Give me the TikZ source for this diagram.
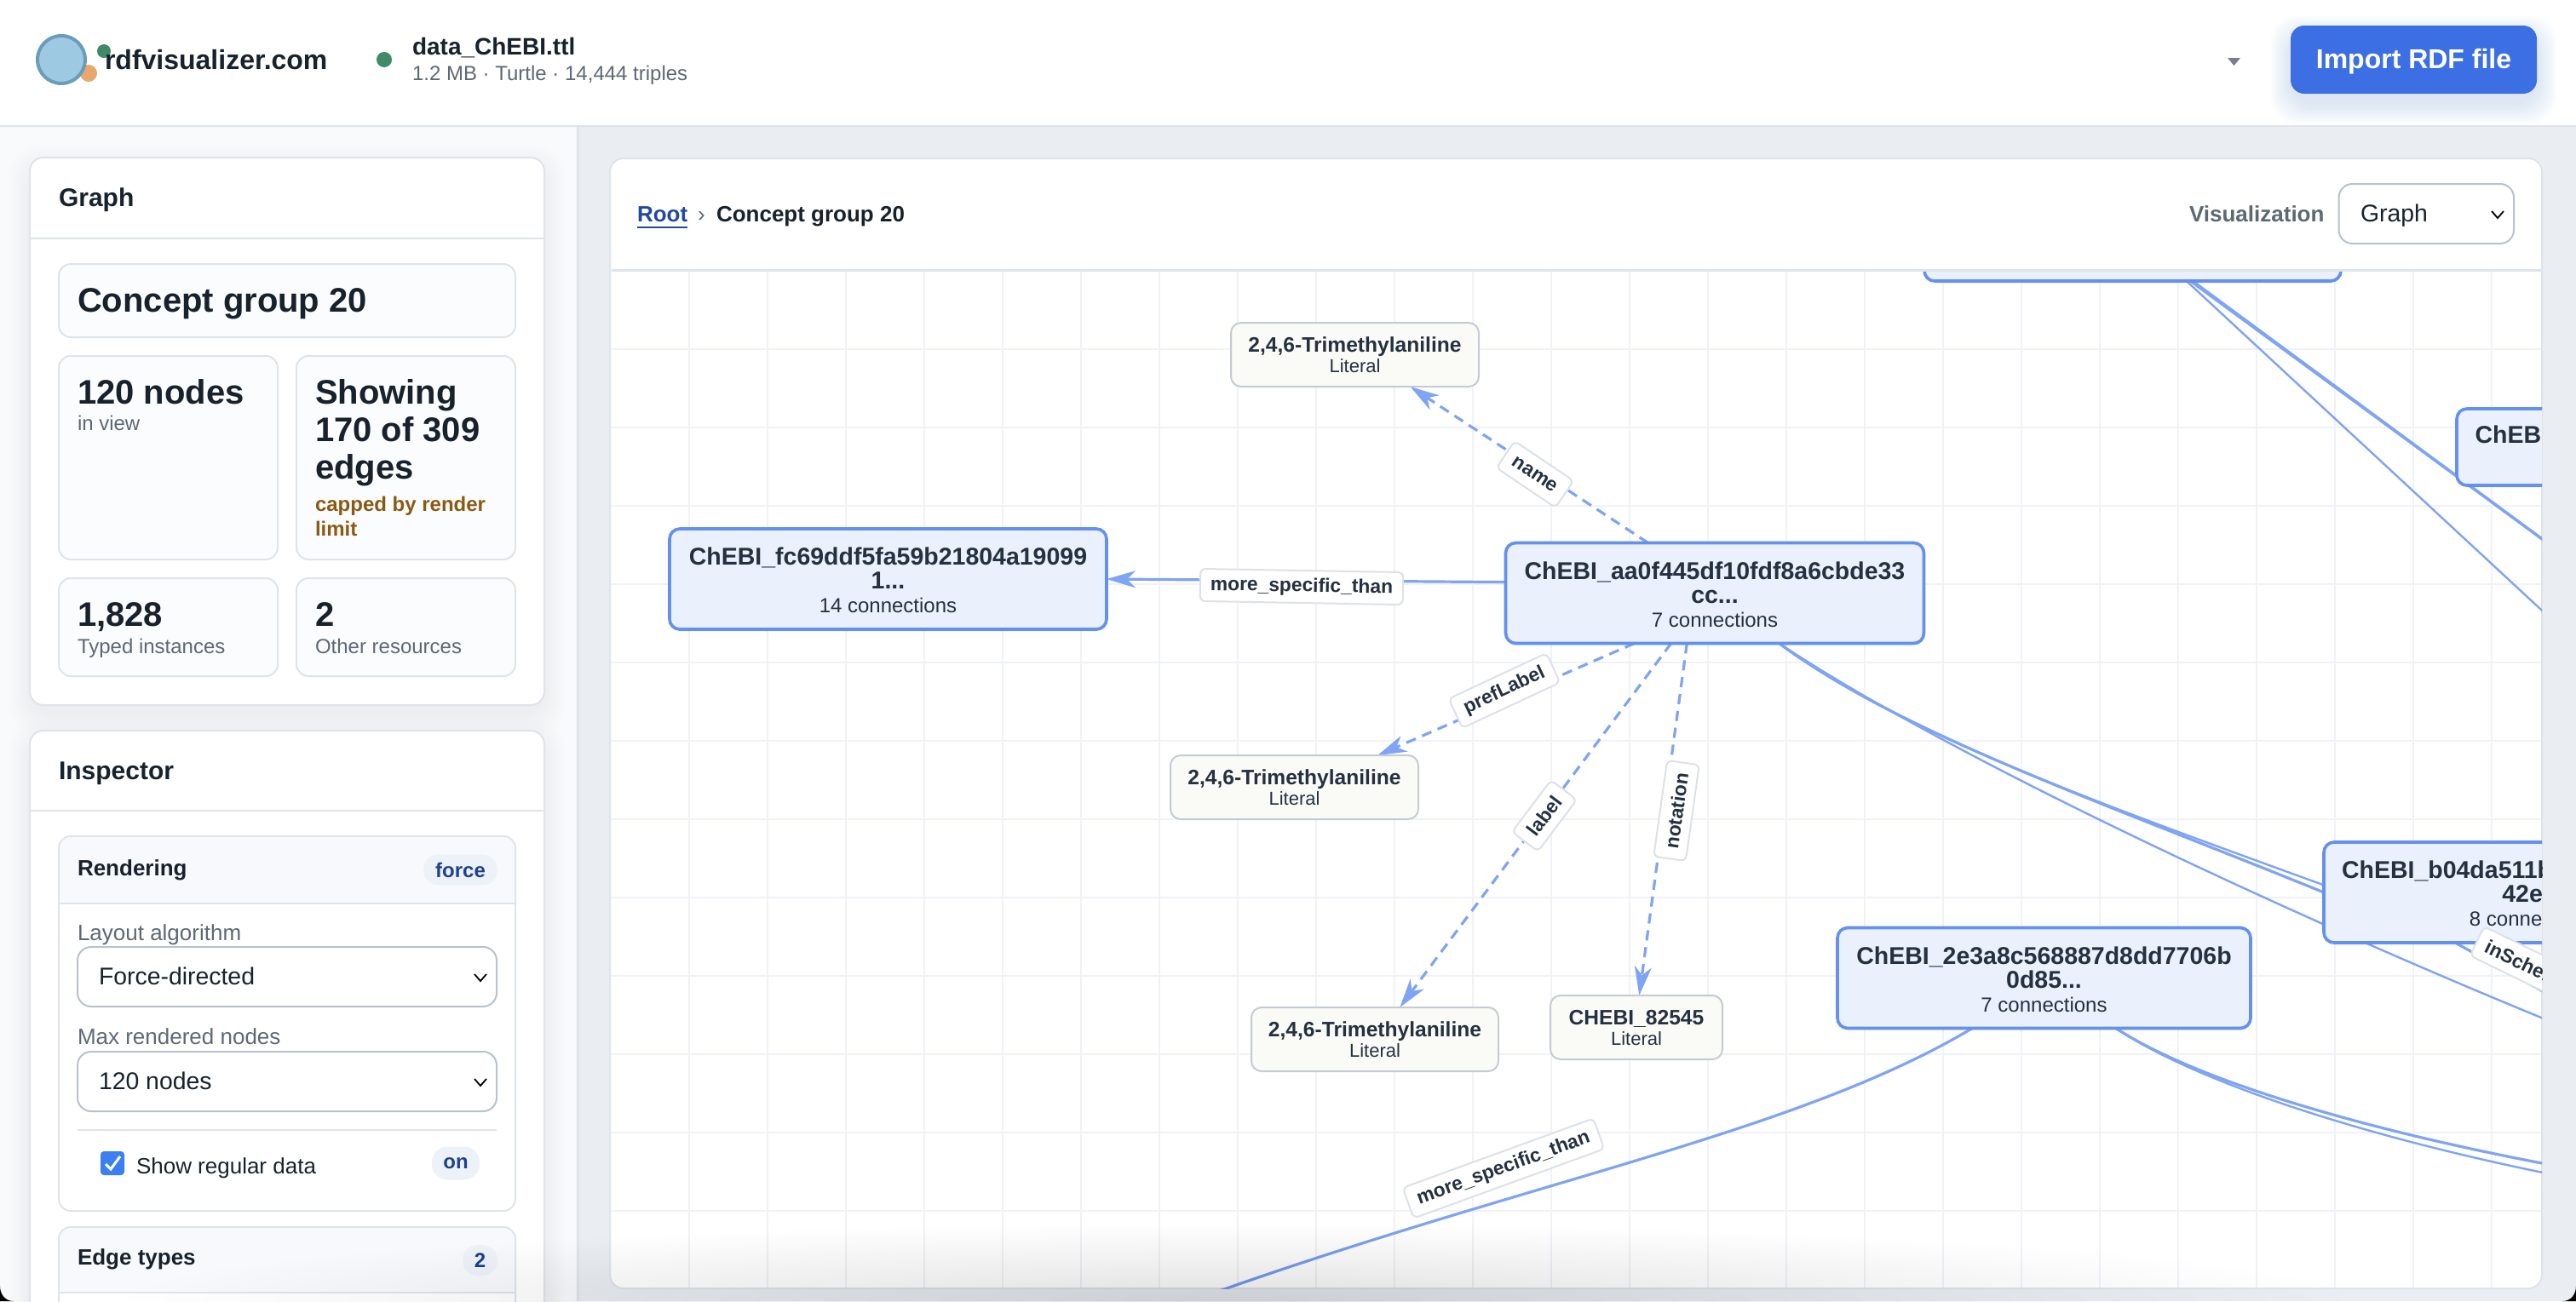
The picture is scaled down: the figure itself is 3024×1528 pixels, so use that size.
\documentclass[tikz,border=0pt]{standalone}
\usepackage{fontspec}
\setmainfont{Liberation Sans}
\usetikzlibrary{arrows.meta,shadows}

\pgfdeclarelayer{background}
\pgfdeclarelayer{edges}
\pgfdeclarelayer{top}
\pgfsetlayers{background,edges,main,top}

\definecolor{inkdark}{HTML}{18222D}
\definecolor{inknode}{HTML}{253040}
\definecolor{inkgrey}{HTML}{5E6875}
\definecolor{inkbadge}{HTML}{1F428F}
\definecolor{inkwarn}{HTML}{8A5A12}
\definecolor{linesoft}{HTML}{DFE3EA}
\definecolor{lineselect}{HTML}{B8C2CF}
\definecolor{sidebg}{HTML}{F9FAFC}
\definecolor{mainbg}{HTML}{EAEEF3}
\definecolor{boxbg}{HTML}{FBFCFE}
\definecolor{headbg}{HTML}{F7F9FC}
\definecolor{badgebg}{HTML}{EDF2F9}
\definecolor{gridline}{HTML}{F0F2F7}
\definecolor{conceptfill}{HTML}{EAF1FD}
\definecolor{conceptline}{HTML}{6490EE}
\definecolor{literalfill}{HTML}{FAFBF7}
\definecolor{literalline}{HTML}{C5CBD3}
\definecolor{edgeblue}{HTML}{7FA4F3}
\definecolor{labelline}{HTML}{DDE1E7}
\definecolor{buttonblue}{HTML}{3B6FE3}
\definecolor{checkblue}{HTML}{3B7FF0}
\definecolor{logoblue}{HTML}{9EC9E3}
\definecolor{logoline}{HTML}{6A9CBC}
\definecolor{logoorange}{HTML}{E8A86B}
\definecolor{dotgreen}{HTML}{3F8A68}
\definecolor{rootblue}{HTML}{2149A3}

\def\fsize#1#2{\fontsize{#1}{#2}\selectfont}
\def\trail{...}
\def\conn#1{{\fsize{12}{14}\mdseries #1}}
\def\lit#1{{\fsize{11}{12}\mdseries #1}}

% Boxes of the page
\tikzstyle{card}=[draw=linesoft,line width=1pt,fill=white,rounded corners=8pt]
\tikzstyle{stat}=[draw=linesoft,line width=1pt,fill=boxbg,rounded corners=7pt]
\tikzstyle{select}=[draw=lineselect,line width=1pt,fill=white,rounded corners=8pt]
\tikzstyle{hline}=[draw=linesoft,line width=1pt]
\tikzstyle{chevron}=[draw=black,line width=0.9pt]
\tikzstyle{badge}=[fill=badgebg,rounded corners=9pt,inner sep=0pt,text=inkbadge,font=\fsize{12}{12}\bfseries]

% Texts, all of them hang on their baseline
\tikzstyle{txt}=[anchor=base west,inner sep=0pt,outer sep=0pt,text=inkdark]
\tikzstyle{title}=[txt,font=\fsize{15}{15}\bfseries]
\tikzstyle{bigval}=[txt,align=left,font=\fsize{20}{22}\bfseries]
\tikzstyle{small}=[txt,text=inkgrey,font=\fsize{12}{12}]
\tikzstyle{field}=[txt,text=inkgrey,font=\fsize{13}{13}]
\tikzstyle{choice}=[txt,font=\fsize{14.2}{14}]
\tikzstyle{subhead}=[txt,font=\fsize{13}{13}\bfseries]

% The graph
\tikzstyle{concept}=[rectangle,rounded corners=6pt,draw=conceptline,line width=1.8pt,fill=conceptfill,
  inner sep=0pt,outer sep=0pt,minimum height=59pt,align=center,text=inknode,
  text height=45pt,text depth=5.5pt,font=\fsize{14.25}{14}\bfseries,
  drop shadow={opacity=0.08,shadow xshift=0pt,shadow yshift=-1.5pt}]
\tikzstyle{literal}=[rectangle,rounded corners=6pt,draw=literalline,line width=1pt,fill=literalfill,
  inner sep=0pt,outer sep=0pt,minimum height=37.5pt,align=center,text=inknode,
  text height=24pt,text depth=3.5pt,font=\fsize{12.3}{12}\bfseries]
\tikzstyle{edge}=[draw=edgeblue,line width=1.6pt]
\tikzstyle{thin edge}=[draw=edgeblue,line width=1.2pt]
\tikzstyle{tipped}=[-{Stealth[length=17pt,width=10pt,inset=5pt]}]
\tikzstyle{dashed edge}=[edge,tipped,dash pattern=on 6pt off 4pt]
\tikzstyle{edge label}=[rectangle,rounded corners=3pt,draw=labelline,line width=1pt,fill=white,
  inner xsep=6pt,inner ysep=0pt,minimum height=19pt,text=inknode,font=\fsize{11.4}{11.4}\bfseries]

\def\cards{{(35,185)/(639,828)}, {(35,858)/(639,1560)}}
\def\stats{{(69,310)/(605,396)}, {(69,418)/(326,657)}, {(348,418)/(605,657)}, {(69,679)/(326,794)}, {(348,679)/(605,794)}}
\def\chevrons{{(564,1148)}, {(564,1271)}, {(2932,252)}}
\def\titles{{(69,242)/graph/Graph}, {(69,915)/inspector/Inspector}}
\def\bigvalues{{(91,366)/group/Concept group 20}, {(91,474)/nodes/120 nodes}, {(370,562)/showing/Showing\\170 of 309\\edges}, {(91,735)/typed/1,828}, {(370,735)/other/2}}
\def\smalls{{(91,505)/inview/in view}, {(91,767)/typedsub/Typed instances}, {(370,767)/othersub/Other resources}}
\def\fields{{(91,1104)/layout/Layout algorithm}, {(91,1226)/maxnodes/Max rendered nodes}}
\def\choices{{(116,1156.5)/force/Force-directed}, {(116,1279.5)/hundred/120 nodes}, {(2771,260)/graphview/Graph}}
\def\badges{{(540.5,1021.5)/87pt/36pt/bforce/force}, {(535,1366)/56pt/39pt/bon/on}, {(563.5,1480)/41pt/36pt/btwo/2}}

\def\concepts{{(1042.5,680)/fc/256.5pt/ChEBI\_fc69ddf5fa59b21804a19099\\1\trail\\\conn{14 connections}},
  {(2013,696.5)/aa/245.5pt/ChEBI\_aa0f445df10fdf8a6cbde33\\cc\trail\\\conn{7 connections}},
  {(2399.5,1148.5)/twoe/242.5pt/ChEBI\_2e3a8c568887d8dd7706b\\0d85\trail\\\conn{7 connections}},
  {(2973,1048)/bnode/245pt/\makebox[224pt][l]{ChEBI\_b04da511b}\\42e\trail\\\conn{8 connections}},
  {(2503.5,271)/ctop/244.5pt/}}
\def\literals{{(1590.5,416.5)/litname/145.5pt/2,4,6-Trimethylaniline},
  {(1519.5,924.5)/litpref/145.5pt/2,4,6-Trimethylaniline},
  {(1614,1220.5)/litlabel/145pt/2,4,6-Trimethylaniline},
  {(1921,1206.5)/litchebi/101pt/CHEBI\_82545}}
\def\connectDashed{aa.143.3/litname.-30.6, aa.-148.7/litpref.21.2, aa.-131.1/litlabel.52.8, aa.-119/litchebi.85.4}
\def\edgelabels{{(1528,689)/-1/lmore/more\_specific\_than}, {(1802,557)/-34/lname/name},
  {(1766,811)/25/lpref/prefLabel}, {(1813,958)/53/llabel/label}, {(1968,952)/82/lnotation/notation},
  {(1765,1372)/20/lmoretwo/more\_specific\_than}, {(2967,1134)/-26/lscheme/inScheme}}

\begin{document}
\begin{tikzpicture}[x=0.5pt,y=-0.5pt]
  \useasboundingbox (0,0) rectangle (3024,1528);

  \begin{pgfonlayer}{background}
    % First the page: header, sidebar and main area
    \fill[white] (0,0) rectangle (3024,148);
    \fill[sidebg] (0,148) rectangle (678,1528);
    \fill[mainbg] (678,148) rectangle (3024,1528);
    \fill[linesoft] (0,147) rectangle (3024,149);
    \fill[linesoft] (677,148) rectangle (680,1528);

    % Soft shadows below the cards and the button
    \foreach \g in {2,4,...,24} {
      \fill[black,opacity=0.004,rounded corners=16pt] (35-\g,185-\g+10) rectangle (639+\g,828+\g+10);
      \fill[black,opacity=0.004,rounded corners=16pt] (35-\g,858-\g+10) rectangle (639+\g,1560);
      \fill[buttonblue,opacity=0.012,rounded corners=16pt] (2689-\g,30-\g+12) rectangle (2978+\g,110+\g+12);
    }

    \foreach \a/\b in \cards
      \path[card] \a rectangle \b;
    \foreach \a/\b in \stats
      \path[stat] \a rectangle \b;
    \draw[hline] (35,280) -- (639,280);
    \draw[hline] (35,952) -- (639,952);

    % The two boxes of the inspector
    \path[stat,fill=white] (69,982) rectangle (605,1422);
    \path[stat,fill=white] (69,1441) rectangle (605,1560);
    \path[fill=headbg] (70,1061) [rounded corners=7pt] -- (70,983) -- (604,983) [sharp corners] -- (604,1061) -- cycle;
    \path[fill=headbg] (70,1518) [rounded corners=7pt] -- (70,1442) -- (604,1442) [sharp corners] -- (604,1518) -- cycle;
    \draw[hline] (69,1061) -- (605,1061);
    \draw[hline] (69,1518) -- (605,1518);
    \path[select] (91,1112) rectangle (583,1182);
    \path[select] (91,1235) rectangle (583,1305);
    \draw[hline] (91,1326.5) -- (583,1326.5);

    % Graph panel with its grid
    \path[card] (716,186) rectangle (2984,1513);
    \path[select] (2745.5,216) rectangle (2951,286);
    \foreach \x in {808.5,900.5,...,2980.5}
      \draw[gridline,line width=1pt] (\x,318) -- (\x,1512);
    \foreach \y in {410,502,...,1512}
      \draw[gridline,line width=1pt] (717,\y) -- (2983,\y);
  \end{pgfonlayer}

  % Logo and file name
  \fill[logoorange] (104,86) circle (10);
  \draw[fill=logoblue,draw=logoline,line width=2pt] (72,70) circle (28);
  \fill[dotgreen] (122,60) circle (8);
  \fill[dotgreen] (451,70) circle (9);
  \node[txt,font=\fsize{16}{16}\bfseries] (brand) at (123,81) {rdfvisualizer.com};
  \node[txt,font=\fsize{14}{14}\bfseries] (filename) at (484,64) {data\_ChEBI.ttl};
  \node[txt,text=inkgrey,font=\fsize{12}{12}] (fileinfo) at (484,94) {1.2 MB · Turtle · 14,444 triples};
  \fill[inkgrey!85] (2615,68) -- (2630,68) -- (2622.5,77) -- cycle;
  \node[rectangle,fill=buttonblue,rounded corners=8pt,minimum width=144.5pt,minimum height=40pt,inner sep=0pt,
    text height=12pt,text depth=2pt,text=white,font=\fsize{16}{16}\bfseries] (import) at (2833.5,70) {Import RDF file};

  % Texts of the sidebar
  \foreach \pos/\name/\label in \titles
    \node[title] (\name) at \pos {\label};
  \foreach \pos/\name/\label in \bigvalues
    \node[bigval] (\name) at \pos {\label};
  \foreach \pos/\name/\label in \smalls
    \node[small] (\name) at \pos {\label};
  \foreach \pos/\name/\label in \fields
    \node[field] (\name) at \pos {\label};
  \foreach \pos/\name/\label in \choices
    \node[choice] (\name) at \pos {\label};
  \node[txt,align=left,text=inkwarn,font=\fsize{12}{14.5}\bfseries] (capped) at (370,629) {capped by render\\limit};
  \node[subhead] (rendering) at (91,1028) {Rendering};
  \node[subhead] (edgetypes) at (91,1485.5) {Edge types};
  \foreach \pos/\wide/\high/\name/\label in \badges
    \node[badge,minimum width=\wide/2,minimum height=\high/2] (\name) at \pos {\label};
  \foreach \pos in \chevrons
    \draw[chevron] \pos +(-7,-4) -- +(0,4) -- +(7,-4);

  % The checkbox
  \fill[checkblue,rounded corners=2pt] (118,1352) rectangle (146,1380);
  \draw[white,line width=1.5pt] (124,1367) -- (130,1373) -- (141,1358);
  \node[txt,font=\fsize{13}{13}] (showdata) at (160,1378) {Show regular data};

  % Head of the graph panel
  \node[txt,text=rootblue,font=\fsize{13}{13}\bfseries] (root) at (748,260) {Root};
  \draw[rootblue,line width=1pt] (748,267) -- (807,267);
  \node[txt,text=inkgrey,font=\fsize{13}{13}] (crumbsep) at (819,260) {›};
  \node[txt,font=\fsize{13}{13}\bfseries] (crumb) at (841,260) {Concept group 20};
  \node[txt,text=inkgrey,font=\fsize{13}{13}\bfseries] (visual) at (2570,260) {Visualization};

  % Then the vertices of the graph, they stop at the panel
  \begin{scope}
    \clip (717,318) rectangle (2984,1513);
    \foreach \pos/\name/\wide/\label in \concepts
      \node[concept,minimum width=\wide] (\name) at \pos {\label};
    \node[concept,minimum width=245pt,text height=10pt,text depth=15pt,minimum height=45pt] (cside) at (3129,525) {\makebox[223.5pt][l]{ChEB}};
    \foreach \pos/\name/\wide/\label in \literals
      \node[literal,minimum width=\wide] (\name) at \pos {\label\\\lit{Literal}};

    % Free ends of the edges that leave the panel
    \coordinate (outA) at (3010,652);
    \coordinate (outB) at (3010,741);
    \coordinate (outC) at (3010,1206);
    \coordinate (outD) at (3010,1178);
    \coordinate (outE) at (3000,1369);
    \coordinate (outF) at (3000,1380);
    \coordinate (outG) at (1420,1520);

    \foreach \pos/\turn/\name/\label in \edgelabels
      \node[edge label,rotate=\turn] (\name) at \pos {\label};
  \end{scope}

  % Connect vertices with edges
  \begin{pgfonlayer}{edges}
    \clip (717,318) rectangle (2984,1513);
    \foreach \source/\dest in \connectDashed
      \path[dashed edge] (\source) -- (\dest);
    \path[edge,tipped] (aa.177.3) -- (fc.-0.2);

    \path[edge] (ctop.-41.2) -- (outA);
    \path[edge] (ctop.-40.8) -- (outA);
    \path[thin edge] (ctop.-43.8) -- (outB);

    \path[edge] (aa.-38) .. controls (2230,860) and (2450,935) .. (bnode.west);
    \path[thin edge] (aa.-38.4) .. controls (2235,862) and (2455,940) .. (bnode.178.8);
    \path[thin edge] (aa.-38) .. controls (2290,890) and (2700,1080) .. (outC);
    \path[edge] (bnode.-147.6) -- (outD);

    \path[edge] (twoe.-35.5) .. controls (2580,1270) and (2780,1328) .. (outE);
    \path[thin edge] (twoe.-35.5) .. controls (2580,1272) and (2780,1336) .. (outF);
    \path[edge] (twoe.-145.5) .. controls (2110,1330) and (1800,1385) .. (outG);
  \end{pgfonlayer}

  \begin{pgfonlayer}{top}
    \fill[linesoft] (718,316) rectangle (2983,318.5);
    % The window darkens towards the bottom and has round corners
    \foreach \k in {1,...,30}
      \fill[black,opacity=0.005] (1450,1528) ellipse ({43.33*\k} and {3*\k});
    \fill[black] (0,1510) .. controls (0,1520) and (6,1528) .. (16,1528) -- (0,1528) -- cycle;
    \fill[black] (3024,1510) .. controls (3024,1520) and (3018,1528) .. (3008,1528) -- (3024,1528) -- cycle;
  \end{pgfonlayer}
\end{tikzpicture}
\end{document}
